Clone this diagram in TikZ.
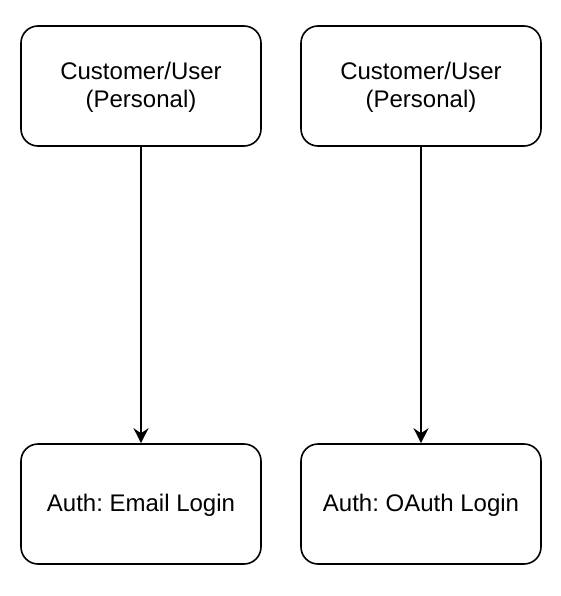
\documentclass[tikz,border=0pt]{standalone}
\usepackage{fontspec}
\setmainfont{Liberation Sans}
\usetikzlibrary{arrows.meta}
\frenchspacing
\newcommand{\boxtext}[1]{\raisebox{-2pt}[\height][\depth]{\begin{tabular}{@{}c@{}}#1\end{tabular}}}
\begin{document}
\begin{tikzpicture}[x=1pt,y=-1pt,
  box/.style={draw=black,line width=1.6pt,rounded corners=17pt,minimum width=240pt,minimum height=120pt,align=center,font=\fontsize{24}{28}\selectfont,inner sep=0pt,fill=white},
  conn/.style={line width=1.6pt,-{Stealth[length=15pt,width=15pt,inset=5pt]}}]
\useasboundingbox (0,0) rectangle (560,596);
\node[box] (u1) at (141,86) {\boxtext{Customer/User\\(Personal)}};
\node[box] (u2) at (421,86) {\boxtext{Customer/User\\(Personal)}};
\node[box] (a1) at (141,504) {\boxtext{Auth: Email Login}};
\node[box] (a2) at (421,504) {\boxtext{Auth: OAuth Login}};
\draw[conn] (u1) -- (a1);
\draw[conn] (u2) -- (a2);
\end{tikzpicture}
\end{document}
